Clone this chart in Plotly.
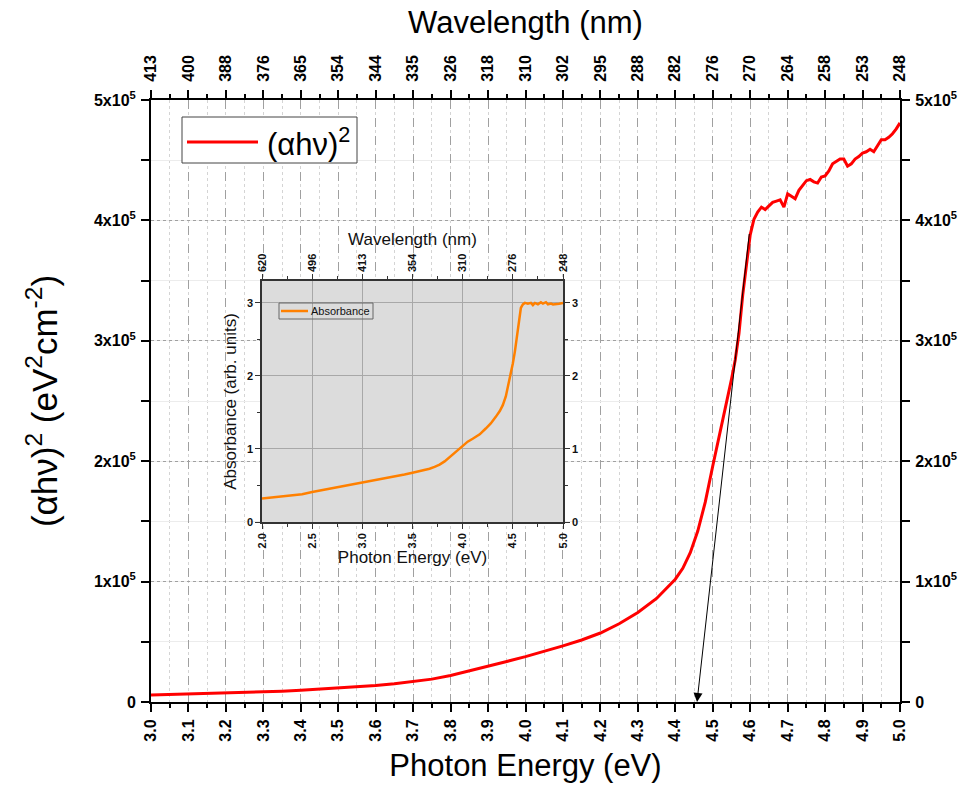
import plotly.graph_objects as go

# ---------------- data ----------------
energy_main = [3.00, 3.05, 3.10, 3.15, 3.20, 3.25, 3.30, 3.35, 3.40, 3.45,
               3.50, 3.55, 3.60, 3.65, 3.70, 3.75, 3.80, 3.85, 3.90, 3.95,
               4.00, 4.05, 4.10, 4.15, 4.20, 4.25, 4.30, 4.35, 4.40, 4.42,
               4.44, 4.46, 4.48, 4.50, 4.52, 4.54, 4.55, 4.56, 4.57, 4.58,
               4.59, 4.60, 4.61, 4.62, 4.63, 4.64, 4.65, 4.66, 4.67, 4.68,
               4.69, 4.70, 4.71, 4.72, 4.73, 4.74, 4.75, 4.76, 4.77, 4.78,
               4.79, 4.80, 4.81, 4.82, 4.83, 4.84, 4.85, 4.86, 4.87, 4.88,
               4.89, 4.90, 4.91, 4.92, 4.93, 4.94, 4.95, 4.96, 4.97, 4.98,
               4.99, 5.00]
tauc_values = [5800, 6200, 6600, 7000, 7400, 7900, 8400, 9000, 9700, 10600,
               11600, 12600, 13800, 15200, 16800, 19000, 22000, 25700, 29800, 33700,
               37700, 42000, 46600, 51500, 57300, 65000, 74400, 86000, 102000, 111000,
               124000, 142000, 166000, 196000, 224000, 252000, 268000, 284000, 306000, 338000,
               365000, 388000, 401000, 407000, 411000, 409000, 412000, 415000, 416000, 417000,
               411000, 422000, 420000, 418000, 425000, 429000, 433000, 434000, 432000, 431000,
               436000, 437000, 441000, 447000, 449000, 451000, 451000, 445000, 447000, 451000,
               453000, 456000, 457000, 459000, 457000, 462000, 467000, 467000, 469000, 472000,
               476000, 481000]

energy_inset = [2.00, 2.10, 2.20, 2.33, 2.40, 2.50, 2.60, 2.67, 2.75, 2.83,
                2.92, 3.00, 3.10, 3.17, 3.25, 3.33, 3.42, 3.50, 3.58, 3.67,
                3.72, 3.77, 3.82, 3.87, 3.93, 4.00, 4.05, 4.10, 4.17, 4.23,
                4.28, 4.33, 4.37, 4.40, 4.43, 4.45, 4.48, 4.50, 4.52, 4.54,
                4.56, 4.57, 4.58, 4.60, 4.62, 4.65, 4.68, 4.70, 4.72, 4.75,
                4.78, 4.80, 4.83, 4.85, 4.88, 4.90, 4.93, 4.96, 5.00]
absorbance = [0.32, 0.335, 0.35, 0.365, 0.38, 0.41, 0.435, 0.455, 0.48, 0.50,
              0.52, 0.54, 0.56, 0.58, 0.60, 0.625, 0.65, 0.675, 0.70, 0.73,
              0.755, 0.785, 0.83, 0.89, 0.96, 1.05, 1.10, 1.14, 1.20, 1.28,
              1.35, 1.44, 1.52, 1.60, 1.72, 1.85, 2.02, 2.17, 2.33, 2.51,
              2.72, 2.84, 2.93, 2.98, 3.00, 2.99, 3.00, 2.97, 3.00, 2.98,
              3.01, 2.99, 3.01, 2.98, 2.99, 2.98, 2.99, 2.99, 3.00]

main_x_ticks = [3.0, 3.1, 3.2, 3.3, 3.4, 3.5, 3.6, 3.7, 3.8, 3.9, 4.0,
                4.1, 4.2, 4.3, 4.4, 4.5, 4.6, 4.7, 4.8, 4.9, 5.0]
main_wavelength_labels = ['413', '400', '388', '376', '365', '354', '344', '335',
                          '326', '318', '310', '302', '295', '288', '282', '276',
                          '270', '264', '258', '253', '248']
main_y_ticks = [0, 100000, 200000, 300000, 400000, 500000]
main_y_labels = ['0', '1x10<sup>5</sup>', '2x10<sup>5</sup>', '3x10<sup>5</sup>',
                 '4x10<sup>5</sup>', '5x10<sup>5</sup>']

inset_x_ticks = [2.0, 2.5, 3.0, 3.5, 4.0, 4.5, 5.0]
inset_x_labels = ['2.0', '2.5', '3.0', '3.5', '4.0', '4.5', '5.0']
inset_wavelength_labels = ['620', '496', '413', '354', '310', '276', '248']
inset_y_ticks = [0, 1, 2, 3]
inset_y_labels = ['0', '1', '2', '3']

tangent_start = (4.598, 390000)
tangent_end = (4.458, 0)

# ---------------- styling ----------------
FONT = "Liberation Sans, Arial, sans-serif"
tickfont_main = dict(family=FONT, size=16, color="black", weight="bold")
tickfont_inset = dict(family=FONT, size=11, color="#111", weight="bold")

fig = go.Figure()

fig.add_trace(go.Scatter(x=energy_main, y=tauc_values, mode="lines",
                         line=dict(color="#ff0000", width=3),
                         name="(αhν)<sup>2</sup>", showlegend=False,
                         xaxis="x", yaxis="y"))
# anchors the top / right axes of the main plot
fig.add_trace(go.Scatter(x=[main_x_ticks[0], main_x_ticks[-1]],
                         y=[main_y_ticks[0], main_y_ticks[-1]],
                         mode="markers", marker=dict(opacity=0),
                         hoverinfo="skip", showlegend=False,
                         xaxis="x2", yaxis="y2"))
fig.add_trace(go.Scatter(x=energy_inset, y=absorbance, mode="lines",
                         line=dict(color="#ff8000", width=2.5),
                         name="Absorbance", showlegend=False,
                         xaxis="x3", yaxis="y3"))
fig.add_trace(go.Scatter(x=[inset_x_ticks[0], inset_x_ticks[-1]], y=[0, 3],
                         mode="markers", marker=dict(opacity=0),
                         hoverinfo="skip", showlegend=False,
                         xaxis="x4", yaxis="y4"))

axis_common_main = dict(showline=True, linecolor="black", linewidth=2,
                        ticks="outside", ticklen=8, tickwidth=2, tickcolor="black",
                        zeroline=False, automargin=False)

L, R, T, B = 151, 80, 100, 83
W, H = 980, 785
pw, ph = W - L - R, H - T - B
ix0, ix1, iy0, iy1 = 262, 563, 281, 522   # inset plot area in pixels
inset_xdom = [(ix0 - L) / pw, (ix1 - L) / pw]
inset_ydom = [(H - B - iy1) / ph, (H - B - iy0) / ph]

fig.update_layout(
    width=W, height=H,
    margin=dict(l=L, r=R, t=T, b=B),
    paper_bgcolor="white", plot_bgcolor="white",
    font=dict(family=FONT, color="black"),
    showlegend=False,
    xaxis=dict(axis_common_main, range=[3, 5], domain=[0, 1], anchor="y",
               tickvals=main_x_ticks, tickformat=".1f", tickangle=-90,
               tickfont=tickfont_main, ticklabelstandoff=1,
               showgrid=True, gridcolor="#a0a0a0", griddash="dash", gridwidth=1,
               minor=dict(dtick=0.05, tick0=3, ticks="outside", ticklen=4,
                          tickwidth=2, tickcolor="black", showgrid=True,
                          gridcolor="#d4d4d4", griddash="dot", gridwidth=1),
               title=dict(text="Photon Energy (eV)", standoff=14,
                          font=dict(family=FONT, size=31, color="black"))),
    xaxis2=dict(axis_common_main, range=[3, 5], overlaying="x", side="top",
                anchor="y2", tickvals=main_x_ticks, ticktext=main_wavelength_labels,
                tickangle=-90, tickfont=tickfont_main, ticklabelstandoff=5,
                showgrid=False,
                minor=dict(dtick=0.05, tick0=3, ticks="outside", ticklen=4,
                           tickwidth=2, tickcolor="black", showgrid=False),
                title=dict(text="Wavelength (nm)", standoff=12,
                           font=dict(family=FONT, size=31, color="black"))),
    yaxis=dict(axis_common_main, range=[0, 500000], domain=[0, 1], anchor="x",
               tickvals=main_y_ticks, ticktext=main_y_labels,
               tickfont=tickfont_main, ticklabelstandoff=2,
               showgrid=True, gridcolor="#a0a0a0", griddash="dot", gridwidth=1,
               minor=dict(dtick=50000, tick0=0, ticks="outside", ticklen=8,
                          tickwidth=2, tickcolor="black", showgrid=True,
                          gridcolor="#ececec", griddash="solid", gridwidth=1),
               title=dict(text="(αhν)<sup>2</sup> (eV<sup>2</sup>cm<sup>-2</sup>)",
                          standoff=26,
                          font=dict(family=FONT, size=35, color="black"))),
    yaxis2=dict(axis_common_main, range=[0, 500000], overlaying="y", side="right",
                anchor="x2", tickvals=main_y_ticks, ticktext=main_y_labels,
                tickfont=tickfont_main, ticklabelstandoff=2, showgrid=False,
                minor=dict(dtick=50000, tick0=0, ticks="outside", ticklen=8,
                           tickwidth=2, tickcolor="black", showgrid=False)),
    xaxis3=dict(range=[2, 5], domain=inset_xdom, anchor="y3",
                showline=True, linecolor="#333", linewidth=1.5,
                ticks="outside", ticklen=5, tickwidth=1, tickcolor="#333",
                tickvals=inset_x_ticks, ticktext=inset_x_labels, tickangle=-90,
                tickfont=tickfont_inset, zeroline=False, automargin=False,
                showgrid=True, gridcolor="#a8a8a8", gridwidth=1,
                minor=dict(dtick=0.25, tick0=2, ticks="outside", ticklen=3,
                           tickwidth=1, tickcolor="#333", showgrid=False),
                title=dict(text="Photon Energy (eV)", standoff=2,
                           font=dict(family=FONT, size=17, color="#111"))),
    xaxis4=dict(range=[2, 5], overlaying="x3", side="top", anchor="y4",
                showline=True, linecolor="#333", linewidth=1.5,
                ticks="outside", ticklen=5, tickwidth=1, tickcolor="#333",
                tickvals=inset_x_ticks, ticktext=inset_wavelength_labels,
                tickangle=-90, tickfont=tickfont_inset, zeroline=False,
                automargin=False, showgrid=False,
                minor=dict(dtick=0.25, tick0=2, ticks="outside", ticklen=3,
                           tickwidth=1, tickcolor="#333", showgrid=False),
                title=dict(text="Wavelength (nm)", standoff=3,
                           font=dict(family=FONT, size=17, color="#111"))),
    yaxis3=dict(range=[0, 3.3], domain=inset_ydom, anchor="x3",
                showline=True, linecolor="#333", linewidth=1.5,
                ticks="outside", ticklen=5, tickwidth=1, tickcolor="#333",
                tickvals=inset_y_ticks, ticktext=inset_y_labels,
                tickfont=tickfont_inset, zeroline=False, automargin=False,
                showgrid=True, gridcolor="#a8a8a8", gridwidth=1,
                minor=dict(dtick=0.5, tick0=0, ticks="outside", ticklen=3,
                           tickwidth=1, tickcolor="#333", showgrid=False),
                title=dict(text="Absorbance (arb. units)", standoff=6,
                           font=dict(family=FONT, size=17, color="#111"))),
    yaxis4=dict(range=[0, 3.3], overlaying="y3", side="right", anchor="x4",
                showline=True, linecolor="#333", linewidth=1.5,
                ticks="outside", ticklen=5, tickwidth=1, tickcolor="#333",
                tickvals=inset_y_ticks, ticktext=inset_y_labels,
                tickfont=tickfont_inset, zeroline=False, automargin=False,
                showgrid=False,
                minor=dict(dtick=0.5, tick0=0, ticks="outside", ticklen=3,
                           tickwidth=1, tickcolor="#333", showgrid=False)),
)

# inset grey background (drawn in the inset subplot, below its grid)
fig.add_shape(type="rect", xref="x3", yref="y3", x0=2, x1=5, y0=0, y1=3.3,
              fillcolor="#dcdcdc", line=dict(width=0), layer="below")

# main legend
fig.add_shape(type="rect", xref="x domain", yref="y domain",
              x0=(182 - L) / pw, x1=(357 - L) / pw,
              y0=(H - B - 163) / ph, y1=(H - B - 117) / ph,
              fillcolor="white", line=dict(color="#444", width=1), layer="above")
fig.add_shape(type="line", xref="x domain", yref="y domain",
              x0=(187 - L) / pw, x1=(258 - L) / pw,
              y0=(H - B - 142) / ph, y1=(H - B - 142) / ph,
              line=dict(color="#ff0000", width=3), layer="above")
fig.add_annotation(xref="x domain", yref="y domain",
                   x=(265 - L) / pw, y=(H - B - 142) / ph,
                   xanchor="left", yanchor="middle", showarrow=False,
                   text="(αhν)<sup>2</sup>",
                   font=dict(family=FONT, size=31, color="black"))

# inset legend
fig.add_shape(type="rect", xref="x3 domain", yref="y3 domain",
              x0=(279 - ix0) / (ix1 - ix0), x1=(373 - ix0) / (ix1 - ix0),
              y0=(iy1 - 319) / (iy1 - iy0), y1=(iy1 - 303) / (iy1 - iy0),
              line=dict(color="#666", width=1), layer="above")
fig.add_shape(type="line", xref="x3 domain", yref="y3 domain",
              x0=(281 - ix0) / (ix1 - ix0), x1=(308 - ix0) / (ix1 - ix0),
              y0=(iy1 - 311) / (iy1 - iy0), y1=(iy1 - 311) / (iy1 - iy0),
              line=dict(color="#ff8000", width=2.5), layer="above")
fig.add_annotation(xref="x3 domain", yref="y3 domain",
                   x=(309 - ix0) / (ix1 - ix0), y=(iy1 - 311) / (iy1 - iy0),
                   xanchor="left", yanchor="middle", showarrow=False,
                   text="Absorbance",
                   font=dict(family=FONT, size=11, color="#111"))

# tangent line with arrow to the band-gap intercept
fig.add_annotation(x=tangent_end[0], y=tangent_end[1], xref="x", yref="y",
                   ax=tangent_start[0], ay=tangent_start[1], axref="x", ayref="y",
                   showarrow=True, arrowhead=2, arrowsize=1.8, arrowwidth=1,
                   arrowcolor="black", text="")

fig.write_html("out.html")
